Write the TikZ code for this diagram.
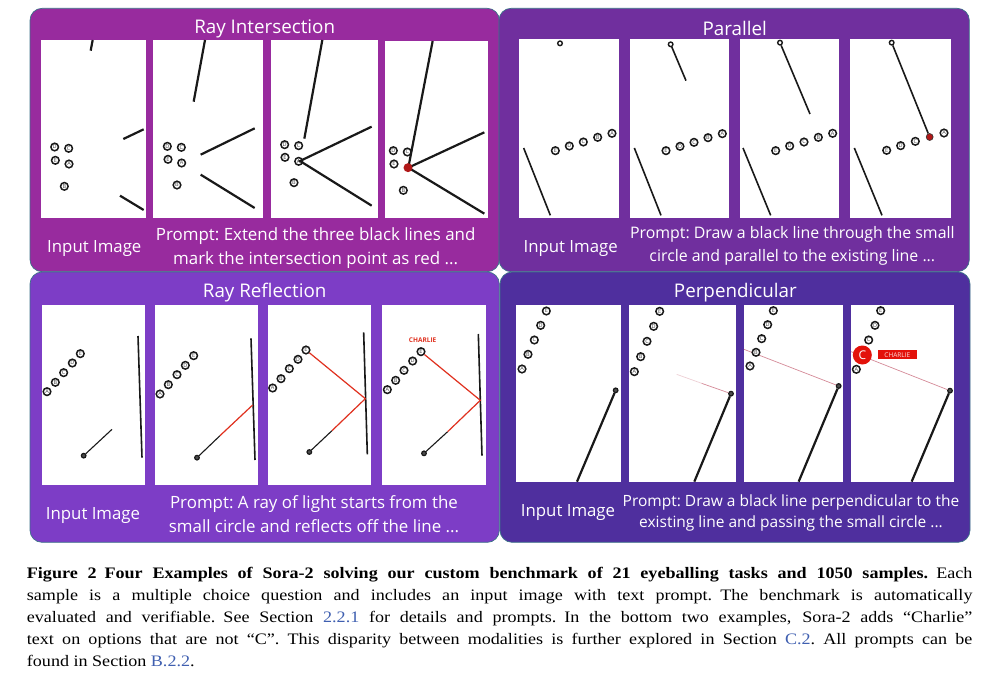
\documentclass[tikz,border=0pt]{standalone}
\usepackage{fontspec}
\setmainfont{Open Sans}
\newfontfamily\capfont[FakeStretch=1.13]{Liberation Serif}
\definecolor{panelA}{HTML}{982B9E}
\definecolor{panelB}{HTML}{702F9E}
\definecolor{panelC}{HTML}{7D3DC6}
\definecolor{panelD}{HTML}{4F2F9E}
\definecolor{panelEdge}{HTML}{3B7288}
\definecolor{rayRed}{HTML}{E0301E}
\definecolor{choiceRed}{HTML}{E3120B}
\definecolor{dotRed}{HTML}{B01818}
\definecolor{perpPink}{HTML}{D58A98}
\definecolor{refBlue}{HTML}{3F5FB0}
\tikzset{
  panel/.style={draw=panelEdge,line width=.7pt,rounded corners=12pt},
  photo/.style={fill=white},
  optmark/.style={circle,draw=black!90,line width=1.5pt,fill=white,minimum size=7.6pt,inner sep=0pt,font=\fontsize{5.5}{5.5}\selectfont,text=black!75},
  smallring/.style={circle,draw=black!90,line width=1.4pt,fill=white,minimum size=4.6pt,inner sep=0pt},
  darkring/.style={circle,draw=black!90,line width=1.2pt,fill=black!70,minimum size=4.6pt,inner sep=0pt},
  reddot/.style={circle,fill=dotRed,minimum size=9pt,inner sep=0pt},
  heavyline/.style={line width=2.2pt,black!90},
  midline/.style={line width=1.6pt,black!90},
  thinline/.style={line width=1.1pt,black!90},
  redline/.style={line width=1.2pt,rayRed},
  pinkline/.style={line width=.7pt,perpPink},
  titlelabel/.style={text=white,font=\fontsize{18.8}{22}\selectfont,inner sep=0pt,yshift=-2pt},
  panellabel/.style={text=white,font=\frenchspacing\fontsize{#1}{20}\selectfont,inner sep=0pt,yshift=-1.5pt},
  panellabel/.default=16.8,
}
\newcommand{\optrow}[2]{\foreach \lab/\x/\y in {#2} \node[optmark] (#1\lab) at (\x,\y) {\lab};}
\begin{document}
\begin{tikzpicture}[x=1pt,y=-1pt]
\useasboundingbox (0,0) rectangle (1000,679);

%% Ray Intersection
\begin{scope}[shift={(20,0)},scale=1/3]
\draw[panel,fill=panelA] (30,25) rectangle (1438,815);
\node[titlelabel] (riTitle) at (734,80) {Ray Intersection};
\node[panellabel] (riInput) at (223,740) {Input Image};
\node[panellabel=16.9] (riPromptA) at (887,703) {Prompt: Extend the three black lines and};
\node[panellabel=16.9] (riPromptB) at (887,775) {mark the intersection point as red ...};
\fill[photo] (63,120) rectangle (378,653);
\fill[photo] (399,120) rectangle (729,653);
\fill[photo] (753,120) rectangle (1074,653);
\fill[photo] (1095,123) rectangle (1404,653);

% input
\draw[heavyline] (218,120) -- (212,152);
\draw[heavyline] (310,417) -- (371,388);
\draw[heavyline] (300,587) -- (371,630);
\optrow{riA}{D/104/441,C/146/445,E/106/481,A/147/492,B/133/559}

% first step
\draw[heavyline] (555,120) -- (521,305);
\draw[heavyline] (542,464) -- (704,385);
\draw[heavyline] (542,524) -- (704,624);
\optrow{riB}{D/442/439,C/484/442,E/444/478,A/485/489,B/471/555}

% second step
\draw[heavyline] (907,120) -- (853,416);
\optrow{riC}{D/794/434,C/836/437,E/795/472,A/836/484,B/822/548}
\draw[heavyline] (1055,380) -- (840,483) -- (1055,617);

% last step
\optrow{riD}{D/1120/452,C/1162/456,E/1122/492,B/1150/571}
\draw[heavyline] (1238,123) -- (1165,503);
\draw[heavyline] (1393,397) -- (1165,503) -- (1393,641);
\node[reddot] (riHit) at (1164,503) {};
\end{scope}

%% Parallel
\begin{scope}[shift={(495,0)},scale=1/3]
\draw[panel,fill=panelB] (12,25) rectangle (1423,815);
\node[titlelabel] (paTitle) at (719,78) {Parallel};
\node[panellabel] (paInput) at (227,740) {Input Image};
\node[panellabel=15.9] (paPromptA) at (892,700) {Prompt: Draw a black line through the small};
\node[panellabel=15.9] (paPromptB) at (892,767) {circle and parallel to the existing line ...};
\fill[photo] (72,117) rectangle (372,653);
\fill[photo] (405,117) rectangle (702,653);
\fill[photo] (735,117) rectangle (1032,653);
\fill[photo] (1065,117) rectangle (1368,653);

% input
\node[smallring] (paRingA) at (195,130) {};
\draw[midline] (86,444) -- (166,646);
\optrow{paA}{E/181/452,D/223/438,C/265/426,B/308/412,A/351/400}

% first step
\node[smallring] (paRingB) at (527,133) {};
\coordinate (paEndB) at (573,242);
\draw[midline] (paRingB) -- (paEndB);
\draw[midline] (418,444) -- (498,646);
\optrow{paB}{E/513/452,D/555/439,C/597/427,B/639/413,A/682/401}

% second step
\node[smallring] (paRingC) at (855,128) {};
\coordinate (paEndC) at (945,342);
\draw[midline] (paRingC) -- (paEndC);
\draw[midline] (744,444) -- (827,646);
\optrow{paC}{E/842/452,D/884/438,C/927/426,B/970/412,A/1013/400}

% last step
\node[smallring] (paRingD) at (1190,128) {};
\node[reddot,minimum size=7pt,draw=black!80,line width=.6pt] (paHit) at (1304,411) {};
\draw[midline] (paRingD) -- (paHit);
\draw[midline] (1078,444) -- (1161,646);
\optrow{paD}{E/1175/451,D/1217/437,C/1261/424,A/1347/399}
\end{scope}

%% Ray Reflection
\begin{scope}[shift={(20,270)},scale=1/3]
\draw[panel,fill=panelC] (30,6) rectangle (1438,817);
\node[titlelabel] (rrTitle) at (734,62) {Ray Reflection};
\node[panellabel] (rrInput) at (219,733) {Input Image};
\node[panellabel=16.9] (rrPromptA) at (882,699) {Prompt: A ray of light starts from the};
\node[panellabel=16.9] (rrPromptB) at (882,763) {small circle and reflects off the line ...};
\fill[photo] (66,105) rectangle (375,645);
\fill[photo] (405,105) rectangle (714,645);
\fill[photo] (744,105) rectangle (1053,645);
\fill[photo] (1086,105) rectangle (1398,645);

% input
\draw[midline] (354,198) -- (366,563);
\node[darkring] (rrRingA) at (191,557) {};
\coordinate (rrEndA) at (276,478);
\draw[thinline] (rrRingA) -- (rrEndA);
\optrow{rrA}{A/81/365,B/106/337,C/131/308,D/157/279,E/181/251}

% first step
\draw[midline] (693,205) -- (705,570);
\node[darkring] (rrRingB) at (531,563) {};
\coordinate (rrBendB) at (600,497);
\coordinate (rrWallB) at (698,405);
\draw[thinline] (rrRingB) -- (rrBendB);
\draw[redline] (rrBendB) -- (rrWallB);
\optrow{rrB}{A/420/372,B/445/344,C/471/314,D/496/286,E/521/257}

% second step
\draw[midline] (1031,187) -- (1042,553);
\node[darkring] (rrRingC) at (868,546) {};
\coordinate (rrBendC) at (936,482);
\coordinate (rrWallC) at (1036,386);
\draw[thinline] (rrRingC) -- (rrBendC);
\optrow{rrC}{A/758/354,B/783/326,C/808/296,D/834/268,E/858/240}
\draw[redline] (rrBendC) -- (rrWallC) -- (rrCE);

% last step
\draw[midline] (1375,192) -- (1386,557);
\node[darkring] (rrRingD) at (1212,550) {};
\coordinate (rrBendD) at (1283,485);
\coordinate (rrWallD) at (1381,391);
\draw[thinline] (rrRingD) -- (rrBendD);
\optrow{rrD}{A/1102/359,B/1127/331,C/1152/301,D/1178/273,E/1203/245}
\draw[redline] (rrBendD) -- (rrWallD) -- (rrDE);
\node[text=rayRed,font=\fontsize{6.5}{7}\selectfont\bfseries,inner sep=0pt] (rrCharlie) at (1208,210) {CHARLIE};
\end{scope}

%% Perpendicular
\begin{scope}[shift={(495,270)},scale=1/3]
\draw[panel,fill=panelD] (15,6) rectangle (1425,817);
\node[titlelabel] (peTitle) at (721,62) {Perpendicular};
\node[panellabel] (peInput) at (219,724) {Input Image};
\node[panellabel=15.5] (pePromptA) at (888,692) {Prompt: Draw a black line perpendicular to the};
\node[panellabel=15.5] (pePromptB) at (888,755) {existing line and passing the small circle ...};
\fill[photo] (63,105) rectangle (378,635);
\fill[photo] (402,105) rectangle (723,635);
\fill[photo] (747,105) rectangle (1044,635);
\fill[photo] (1068,105) rectangle (1377,635);

% input
\node[darkring] (peRingA) at (362,361) {};
\coordinate (peFootA) at (246,635);
\draw[heavyline] (peRingA) -- (peFootA);
\optrow{peA}{A/81/297,B/99/253,C/118/210,D/137/166,E/154/123}

% first step
\node[darkring] (peRingB) at (708,371) {};
\coordinate (peFootB) at (598,635);
\coordinate (peMidB) at (620,340);
\coordinate (peEndB) at (545,313);
\draw[heavyline] (peRingB) -- (peFootB);
\draw[pinkline] (peRingB) -- (peMidB);
\draw[pinkline,opacity=.4] (peMidB) -- (peEndB);
\optrow{peB}{A/418/305,B/437/260,C/456/214,D/476/169,E/494/124}

% second step
\node[darkring] (peRingC) at (1031,348) {};
\coordinate (peFootC) at (911,635);
\coordinate (peEndC) at (747,238);
\draw[heavyline] (peRingC) -- (peFootC);
\draw[pinkline] (peRingC) -- (peEndC);
\optrow{peC}{A/765/288,B/783/247,C/800/206,D/818/164,E/835/122}

% last step
\node[darkring] (peRingD) at (1365,362) {};
\coordinate (peFootD) at (1250,635);
\coordinate (peEndD) at (1068,245);
\draw[heavyline] (peRingD) -- (peFootD);
\draw[pinkline] (peRingD) -- (peEndD);
\optrow{peD}{A/1084/298,C/1121/210,D/1140/166,E/1157/122}
\node[circle,fill=choiceRed,minimum size=19pt,inner sep=0pt,text=white,font=\fontsize{12}{13}\selectfont] (peChoice) at (1102,255) {C};
\node[fill=choiceRed,minimum width=39.5pt,minimum height=9pt,inner sep=0pt,text=white!85!choiceRed,font=\fontsize{6.5}{7}\selectfont] (peCharlie) at (1207,254.5) {CHARLIE};
\end{scope}

%% Caption
\node[anchor=north west,inner sep=0pt,text width=945.5pt,align=justify,font=\capfont\fontsize{16}{22}\selectfont] (figCaption) at (26.7,567) {\textbf{Figure 2\enspace Four Examples of Sora-2 solving our custom benchmark of 21 eyeballing tasks and 1050 samples.}\enspace Each\linebreak
sample is a multiple choice question and includes an input image with text prompt.\enspace The benchmark is automatically\linebreak
evaluated and verifiable.\enspace See Section \textcolor{refBlue}{2.2.1} for details and prompts.\enspace In the bottom two examples, Sora-2 adds “Charlie”\linebreak
text on options that are not “C”.\enspace This disparity between modalities is further explored in Section \textcolor{refBlue}{C.2}.\enspace All prompts can be\linebreak
found in Section \textcolor{refBlue}{B.2.2}.};

\end{tikzpicture}
\end{document}
